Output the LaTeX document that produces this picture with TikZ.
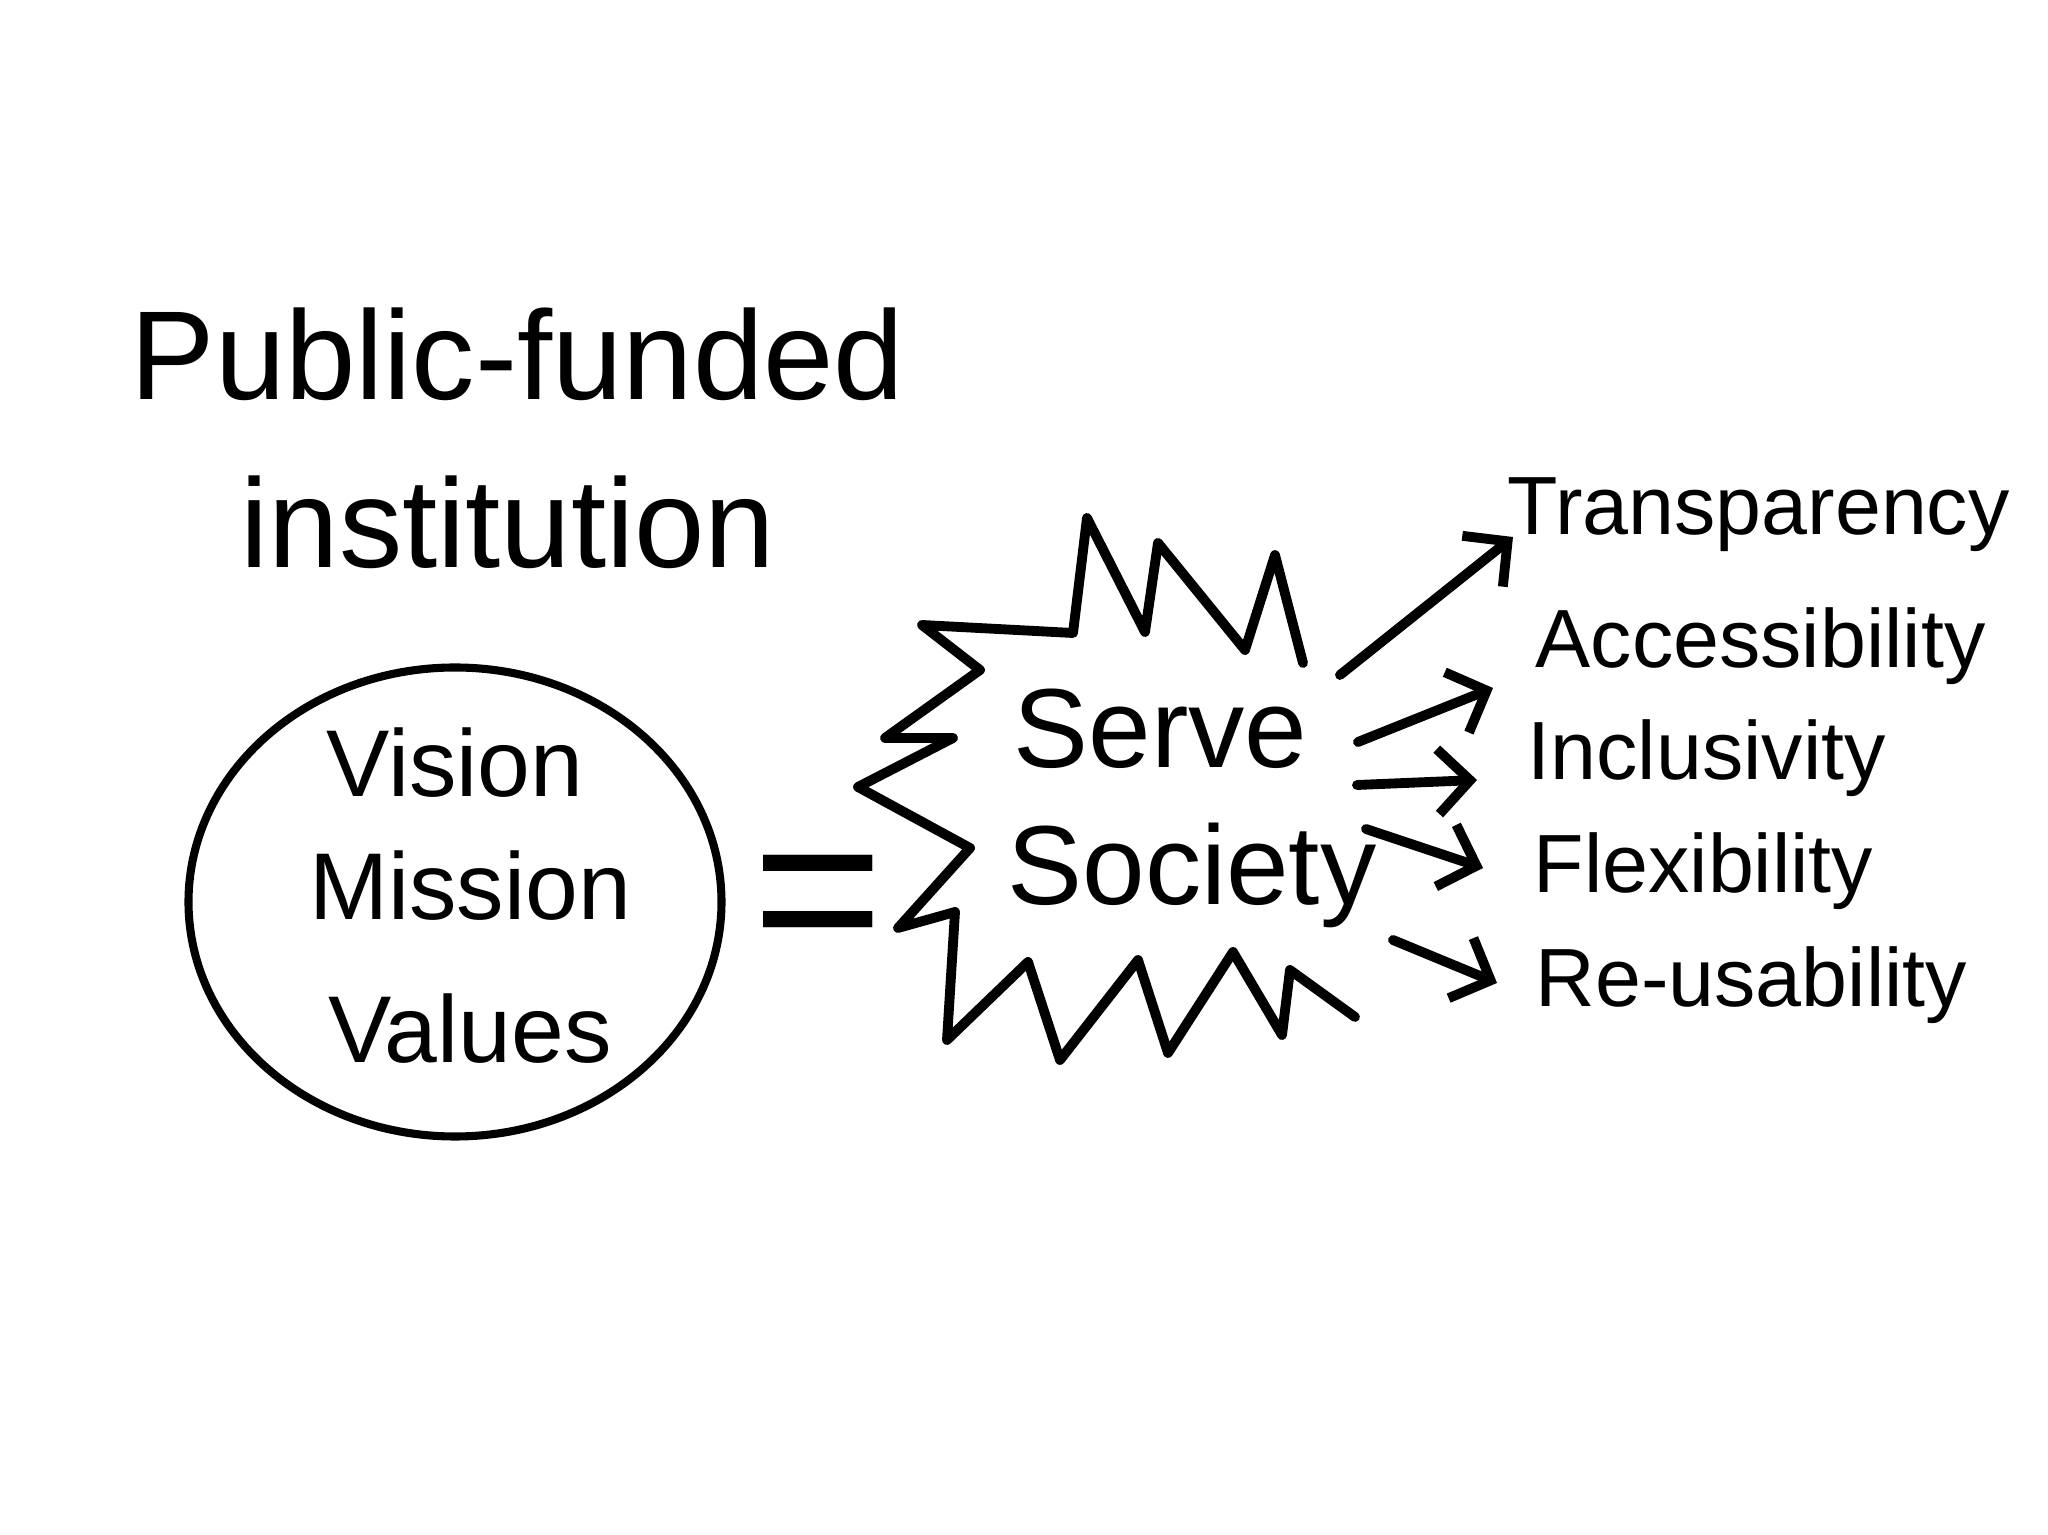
\documentclass[tikz,border=0pt]{standalone}
\usepackage{fontspec}
\setmainfont{Liberation Sans}
\usetikzlibrary{arrows.meta,calc,shapes.geometric}
\definecolor{ink}{HTML}{000000}
\definecolor{paper}{HTML}{FFFFFF}
\tikzset{
  every node/.style={text=ink,inner sep=0pt},
  heading/.style={font=\fontsize{36}{40}\selectfont,anchor=base west},
  core/.style={font=\fontsize{27}{30}\selectfont,anchor=base},
  shout/.style={font=\fontsize{32}{36}\selectfont,anchor=base west},
  item/.style={font=\fontsize{23.5}{28}\selectfont,anchor=base west},
  pen/.style={draw=ink,line width=2.8pt,line cap=round,line join=round},
  reach/.style={pen,-{Straight Barb[length=3.2mm,width=6.5mm]}},
}

\begin{document}
\begin{tikzpicture}[x=1cm,y=1cm]
\path[use as bounding box] (0,0) rectangle (20.48,15.35);
\fill[paper] (0,0) rectangle (20.48,15.35);
% Title, written top left.
\node[heading] (public) at (1.30,11.35) {Public-funded};
\node[heading] (inst) at (2.40,9.67) {institution};
% The three guiding ideas, circled.
\node[ellipse,draw=ink,line width=2.3pt,minimum width=5.33cm,minimum height=4.69cm] (vmv) at (4.55,6.33) {};
\node[core] (vision) at (4.55,7.38) {Vision};
\node[core] (mission) at (4.70,6.15) {Mission};
\node[core] (values) at (4.70,4.72) {Values};
\node[font=\fontsize{64}{64}\selectfont] (eq) at (8.18,6.25) {=};
% Starburst, open on the right where the arrows leave.
\draw[pen] (13.03,8.72) -- (12.75,9.80) -- (12.45,8.85) -- (11.58,9.92) -- (11.45,9.03)
  -- (10.87,10.17) -- (10.73,9.02) -- (9.22,9.10) -- (9.80,8.65) -- (8.85,7.97) -- (9.53,7.97)
  -- (8.58,7.48) -- (9.70,6.87) -- (8.98,6.07) -- (9.55,6.23) -- (9.47,4.95) -- (10.28,5.73)
  -- (10.60,4.75) -- (11.38,5.75) -- (11.68,4.82) -- (12.33,5.83) -- (12.82,5.00) -- (12.90,5.65)
  -- (13.55,5.18);
\node[shout] (serve) at (10.13,7.67) {Serve};
\node[shout] (society) at (10.07,6.30) {Society};
% What serving society asks for.
\foreach \x/\y/\n/\t in {15.07/10.00/transp/Transparency,15.35/8.67/access/Accessibility,
    15.27/7.55/incl/Inclusivity,15.33/6.42/flex/Flexibility,15.35/5.28/reuse/Re-usability}{
  \node[item] (\n) at (\x,\y) {\t};
}
\foreach \sx/\sy/\n/\dx/\dy in {13.40/8.60/transp/.06/-.02,13.58/7.93/access/-.42/-.20,
    13.57/7.50/incl/-.50/0,13.66/7.06/flex/-.50/.25,13.93/5.95/reuse/-.38/.24}{
  \draw[reach] (\sx,\sy) coordinate (from-\n) -- ([shift={(\dx,\dy)}]\n.base west);
}
\end{tikzpicture}
\end{document}
